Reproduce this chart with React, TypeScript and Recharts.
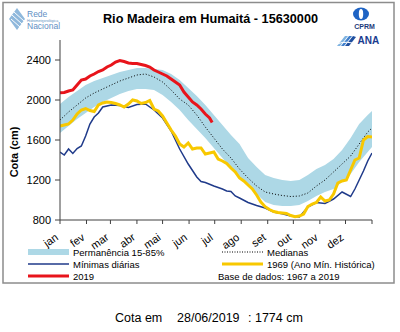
import React from 'react';
import { ComposedChart, Area, Line, XAxis, YAxis } from 'recharts';

// eixo x em dias do ano (0 = 1 jan)
const monthStarts = [0, 31, 59, 90, 120, 151, 181, 212, 243, 273, 304, 334, 365];
const monthLabels = ['jan', 'fev', 'mar', 'abr', 'mai', 'jun', 'jul', 'ago', 'set', 'out', 'nov', 'dez'];
const yTicks = [800, 1200, 1600, 2000, 2400];

// permanência 15-85% e medianas (cm)
const bandDays = [0, 10, 20, 30, 40, 50, 60, 70, 80, 90, 100, 110, 120, 130, 140, 150, 160, 170, 180,
  190, 200, 210, 220, 230, 240, 250, 260, 270, 280, 290, 300, 310, 320, 330, 340, 350, 360, 365];
const bandLow = [1670, 1740, 1810, 1870, 1930, 1980, 2020, 2060, 2090, 2110, 2110, 2100, 2050, 1980, 1900,
  1800, 1710, 1620, 1520, 1420, 1320, 1230, 1140, 1060, 980, 950, 940, 940, 950, 990, 1040, 1080, 1110,
  1180, 1260, 1380, 1480, 1530];
const bandHigh = [1960, 2030, 2090, 2150, 2190, 2220, 2250, 2280, 2300, 2320, 2320, 2310, 2300, 2260, 2200,
  2120, 2040, 1950, 1850, 1750, 1650, 1560, 1420, 1330, 1250, 1220, 1200, 1190, 1200, 1250, 1310, 1350,
  1410, 1500, 1620, 1760, 1850, 1890];
const medianas = [1800, 1880, 1950, 2020, 2070, 2110, 2150, 2190, 2220, 2250, 2260, 2230, 2180, 2100, 2010,
  1950, 1850, 1730, 1620, 1510, 1420, 1310, 1220, 1140, 1080, 1060, 1045, 1035, 1040, 1070, 1140, 1200,
  1280, 1360, 1440, 1560, 1680, 1720];

// mínimas diárias
const minDays = [0, 5, 10, 15, 20, 25, 30, 35, 40, 45, 50, 60, 70, 80, 90, 100, 110, 120, 130, 140, 150,
  160, 165, 170, 180, 190, 195, 200, 205, 210, 220, 230, 240, 250, 260, 270, 280, 290, 300, 310, 320,
  330, 340, 345, 350, 355, 360, 365];
const minimas = [1480, 1450, 1510, 1465, 1515, 1540, 1640, 1760, 1830, 1870, 1930, 1950, 1945, 1925, 1955,
  1960, 1900, 1820, 1690, 1510, 1360, 1230, 1185, 1175, 1140, 1110, 1090, 1085, 1040, 1020, 975, 945,
  920, 880, 862, 840, 830, 930, 975, 965, 1010, 1080, 1035, 1110, 1200, 1290, 1390, 1470];

// 1969 (ano mínimo histórico)
const days1969 = [0, 5, 10, 15, 20, 25, 30, 35, 40, 45, 50, 55, 60, 65, 70, 75, 80, 85, 90, 95, 100, 105,
  110, 115, 120, 125, 130, 135, 140, 145, 150, 155, 160, 165, 170, 175, 180, 185, 190, 195, 200, 205,
  210, 215, 220, 225, 230, 235, 240, 245, 250, 255, 260, 265, 270, 275, 280, 285, 290, 295, 300, 305,
  310, 315, 320, 325, 330, 335, 340, 345, 350, 355, 360, 365];
const cota1969 = [1740, 1750, 1760, 1800, 1860, 1900, 1915, 1895, 1885, 1950, 1970, 1980, 1975, 1965, 1950,
  1930, 1960, 2000, 1990, 1965, 1975, 1995, 1910, 1890, 1840, 1770, 1700, 1640, 1560, 1530, 1570, 1510,
  1520, 1520, 1460, 1470, 1480, 1410, 1390, 1365, 1320, 1280, 1220, 1190, 1150, 1110, 1050, 980, 933,
  905, 885, 875, 870, 865, 845, 833, 840, 860, 935, 960, 975, 1030, 990, 1000, 1060, 1170, 1190, 1200,
  1300, 1400, 1420, 1600, 1635, 1630];

// 2019
const days2019 = [0, 5, 10, 15, 20, 25, 30, 35, 40, 45, 50, 55, 60, 65, 70, 75, 80, 85, 90, 95, 100, 105,
  110, 115, 120, 125, 130, 135, 140, 145, 150, 155, 160, 165, 170, 175, 178];
const cota2019 = [2073, 2075, 2090, 2100, 2150, 2200, 2210, 2240, 2260, 2285, 2300, 2330, 2350, 2380, 2395,
  2385, 2370, 2365, 2365, 2355, 2345, 2330, 2300, 2280, 2260, 2240, 2210, 2180, 2150, 2080, 2030, 1980,
  1950, 1910, 1860, 1820, 1774];

const FONT = '"Liberation Sans", Arial, Helvetica, sans-serif';
const BAND = '#ADD8E6';
const RED = '#E8141B';
const GOLD = '#F8C800';
const NAVY = '#1F3A8A';

const bandData = bandDays.map((d, i) => ({ d, range: [bandLow[i], bandHigh[i]], med: medianas[i] }));
const minData = minDays.map((d, i) => ({ d, v: minimas[i] }));
const data1969 = days1969.map((d, i) => ({ d, v: cota1969[i] }));
const data2019 = days2019.map((d, i) => ({ d, v: cota2019[i] }));

const MonthTick = (props: any) => {
  const { x, y, payload } = props;
  const label = monthLabels[monthStarts.indexOf(payload.value)];
  if (!label) return null;
  const ay = y + 15;
  return (
    <text x={x - 1} y={ay} textAnchor="end" fontSize={11} fontFamily={FONT} fill="#000"
      transform={`rotate(-35 ${x - 1} ${ay})`}>
      {label}
    </text>
  );
};

const Overlay = () => (
  <svg width={400} height={332} style={{ position: 'absolute', left: 0, top: 0, pointerEvents: 'none' }}
    fontFamily={FONT}>
    <rect x={3} y={2.5} width={391} height={280.5} fill="none" stroke="#8c8c8c" strokeWidth={1.5} />

    {/* logo RHN */}
    <g>
      <path d="M17 8 L25 19 L17 30 L9 19 Z" fill="#8fb8dc" />
      <path d="M12 15 L22 24 M11 19 L20 27 M14 12 L24 21" stroke="#ffffff" strokeWidth={1} />
      <text x={27} y={17} fontSize={8.5} fill="#5f8fc4">Rede</text>
      <text x={27} y={21.5} fontSize={3.6} fill="#5f8fc4">Hidrometeorológica</text>
      <text x={27} y={29} fontSize={8.5} fill="#5f8fc4">Nacional</text>
    </g>

    <text x={210.5} y={23} textAnchor="middle" fontSize={12.7} fontWeight="bold" fill="#000">
      Rio Madeira em Humaitá - 15630000
    </text>

    {/* logo CPRM */}
    <g>
      <ellipse cx={361} cy={14} rx={8} ry={6.5} fill="#1e63c4" />
      <ellipse cx={361} cy={14} rx={2.2} ry={5} fill="#ffffff" />
      <text x={364.5} y={28.5} textAnchor="middle" fontSize={7} fontWeight="bold" fill="#1c3a7a">CPRM</text>
    </g>
    {/* logo ANA */}
    <g>
      <path d="M337 46 L345 36 L348 36 L340 46 Z" fill="#7fb3e0" />
      <path d="M341 46 L349 36 L352 36 L344 46 Z" fill="#3f7fcc" />
      <path d="M345 46 L353 36 L356 37 L349 46 Z" fill="#1f4fa0" />
      <path d="M337 44 Q347 40 358 45" stroke="#ffffff" strokeWidth={1} fill="none" />
      <text x={357.5} y={44} fontSize={10} fontWeight="bold" fill="#1b3d8f">ANA</text>
    </g>

    <text x={18} y={152} textAnchor="middle" fontSize={11} fontWeight="bold" fill="#000"
      transform="rotate(-90 18 152)">
      Cota (cm)
    </text>

    {/* legenda */}
    <g fontSize={9.5} fill="#000">
      <rect x={28} y={249} width={41} height={6} fill={BAND} />
      <text x={73} y={255.5}>Permanência 15-85%</text>
      <line x1={28} y1={264} x2={69} y2={264} stroke={NAVY} strokeWidth={1.5} />
      <text x={73} y={267.5}>Mínimas diárias</text>
      <line x1={28} y1={276} x2={69} y2={276} stroke={RED} strokeWidth={3} />
      <text x={73} y={279.5}>2019</text>

      <line x1={222} y1={252} x2={263} y2={252} stroke="#000" strokeWidth={1} strokeDasharray="1 1.5" />
      <text x={267} y={255.5}>Medianas</text>
      <line x1={222} y1={264} x2={263} y2={264} stroke={GOLD} strokeWidth={3} />
      <text x={267} y={267.5}>1969 (Ano Mín. Histórica)</text>
      <text x={218} y={279.5}>Base de dados: 1967 a 2019</text>
    </g>

    <g fontSize={12.5} fill="#000">
      <text x={115} y={322}>Cota em</text>
      <text x={177} y={322}>28/06/2019</text>
      <text x={248} y={322}>: 1774 cm</text>
    </g>
  </svg>
);

export default function App() {
  return (
    <div style={{ position: 'absolute', left: 0, top: 0, width: 400, height: 332, background: '#fff' }}>
      <ComposedChart width={400} height={332} margin={{ top: 40, right: 28, bottom: 82, left: 0 }}>
        <XAxis
          dataKey="d"
          type="number"
          domain={[0, 365]}
          ticks={monthStarts}
          interval={0}
          allowDataOverflow
          height={30}
          tickSize={4}
          tickMargin={0}
          axisLine={{ stroke: '#404040' }}
          tickLine={{ stroke: '#404040' }}
          tick={<MonthTick />}
        />
        <YAxis
          type="number"
          domain={[800, 2600]}
          ticks={yTicks}
          interval={0}
          allowDataOverflow
          width={60}
          tickSize={5}
          tickMargin={4}
          axisLine={{ stroke: '#404040' }}
          tickLine={{ stroke: '#404040' }}
          tick={{ fontSize: 11, fill: '#000', fontFamily: FONT }}
        />
        <Area
          data={bandData}
          dataKey="range"
          type="linear"
          stroke="none"
          fill={BAND}
          fillOpacity={1}
          dot={false}
          activeDot={false}
          isAnimationActive={false}
        />
        <Line data={bandData} dataKey="med" type="linear" stroke="#000" strokeWidth={1}
          strokeDasharray="1 2" dot={false} activeDot={false} isAnimationActive={false} />
        <Line data={minData} dataKey="v" type="linear" stroke={NAVY} strokeWidth={1.5}
          dot={false} activeDot={false} isAnimationActive={false} />
        <Line data={data1969} dataKey="v" type="linear" stroke={GOLD} strokeWidth={3}
          dot={false} activeDot={false} isAnimationActive={false} />
        <Line data={data2019} dataKey="v" type="linear" stroke={RED} strokeWidth={3}
          dot={false} activeDot={false} isAnimationActive={false} />
      </ComposedChart>
      <Overlay />
    </div>
  );
}
